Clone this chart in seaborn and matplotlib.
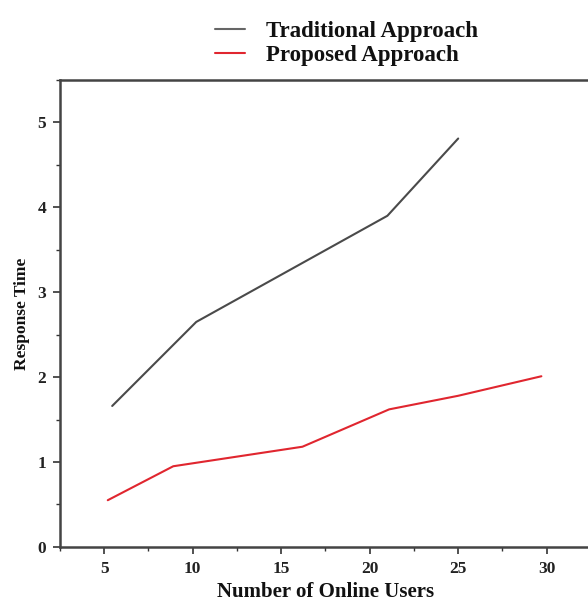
import numpy as np
import pandas as pd
import matplotlib
matplotlib.use("Agg")
import matplotlib.pyplot as plt
from matplotlib.ticker import MultipleLocator
import seaborn as sns

# datos
trad_x = [5.45, 10.2, 21.0, 25.0]
trad_y = [1.66, 2.65, 3.9, 4.81]
prop_x = [5.2, 8.9, 16.2, 21.1, 25.0, 29.7]
prop_y = [0.55, 0.95, 1.18, 1.62, 1.78, 2.01]
series = ["Traditional Approach", "Proposed Approach"]

df = pd.concat([
    pd.DataFrame({"x": trad_x, "y": trad_y, "Serie": series[0]}),
    pd.DataFrame({"x": prop_x, "y": prop_y, "Serie": series[1]}),
])

sns.set_style("ticks")
plt.rcParams["font.family"] = ["Liberation Serif", "DejaVu Serif"]
plt.rcParams["font.weight"] = "bold"

fig = plt.figure(figsize=(5.88, 6.01), dpi=100)
ax = fig.add_axes([0.102, 0.09, 0.903, 0.777])

sns.lineplot(data=df, x="x", y="y", hue="Serie", hue_order=series,
             palette=["#4a4a4a", "#e0262f"], linewidth=1.5, sort=False,
             estimator=None, ax=ax)

ax.set_xlim(2.5, 32.5)
ax.set_ylim(0, 5.5)
ax.xaxis.set_major_locator(MultipleLocator(5))
ax.xaxis.set_minor_locator(MultipleLocator(2.5))
ax.yaxis.set_major_locator(MultipleLocator(1))
ax.yaxis.set_minor_locator(MultipleLocator(0.5))
ax.tick_params(which="major", direction="out", length=5, width=1.2,
               labelsize=12.5, colors="#333333", pad=5)
ax.tick_params(which="minor", direction="out", length=3, width=1.0,
               colors="#333333")
for lab in ax.get_xticklabels() + ax.get_yticklabels():
    lab.set_fontweight("bold")
    lab.set_color("#222222")
for s in ax.spines.values():
    s.set_linewidth(1.8)
    s.set_color("#444444")

ax.set_xlabel("Number of Online Users", fontsize=15, fontweight="bold",
              labelpad=4, color="#111111")
ax.set_ylabel("Response Time", fontsize=12.5, fontweight="bold",
              labelpad=5, color="#111111")

leg = ax.legend(loc="lower center", bbox_to_anchor=(0.54, 1.0), frameon=False,
                fontsize=16.5, handlelength=1.3, handletextpad=0.9,
                borderaxespad=0.2, labelspacing=0.12)
for t in leg.get_texts():
    t.set_fontweight("bold")
    t.set_color("#111111")
leg.get_lines()[0].set_color("#666666")

fig.savefig("out.png", dpi=100)
